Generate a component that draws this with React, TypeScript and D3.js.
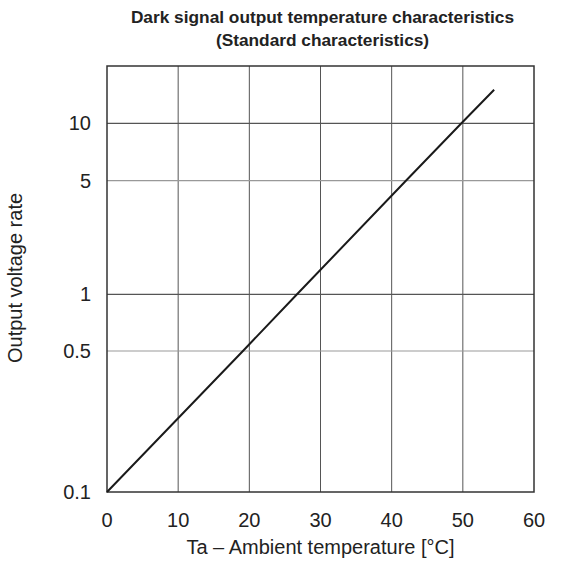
import { useEffect, useRef } from "react";
import * as d3 from "d3";

// x ticks (°C) and y ticks (output voltage rate)
const xTicks = [0, 10, 20, 30, 40, 50, 60];
const yTicks = [0.1, 0.5, 1, 5, 10];
// the printed y axis is not an exact log scale, so each gridline gets its own stop
const yStops = [0.1, 0.5, 1, 5, 10, 20];
const yStopPx = [492, 351, 294.3, 180.7, 123.3, 66];

// curve
const temps = [0, 19.1, 26.7, 42, 49.8, 54.4];
const rates = [0.1, 0.5, 1, 5, 10, 15];

const W = 573;
const H = 567;
const font = "'Liberation Sans', Arial, sans-serif";

export default function App() {
  const svgRef = useRef<SVGSVGElement | null>(null);

  useEffect(() => {
    const svg = d3.select(svgRef.current);
    svg.selectAll("*").remove();

    const margin = { top: 66, right: 39, bottom: 75, left: 107 };
    const innerW = W - margin.left - margin.right;
    const innerH = H - margin.top - margin.bottom;

    const x = d3.scaleLinear().domain([0, 60]).range([0, innerW]);
    const y = d3
      .scaleLog()
      .domain(yStops)
      .range(yStopPx.map(p => p - margin.top));

    const g = svg.append("g").attr("transform", `translate(${margin.left},${margin.top})`);

    // vertical grid
    g.selectAll(".vgrid")
      .data(xTicks.slice(1, -1))
      .enter()
      .append("line")
      .attr("x1", d => x(d))
      .attr("x2", d => x(d))
      .attr("y1", 0)
      .attr("y2", innerH)
      .attr("stroke", "#555")
      .attr("stroke-width", 1);

    // horizontal grid
    g.selectAll(".hgrid")
      .data(yTicks.slice(1))
      .enter()
      .append("line")
      .attr("x1", 0)
      .attr("x2", innerW)
      .attr("y1", d => y(d))
      .attr("y2", d => y(d))
      .attr("stroke", d => (d === 5 || d === 0.5 ? "#999" : "#555"))
      .attr("stroke-width", 1.2);

    // frame
    g.append("rect")
      .attr("width", innerW)
      .attr("height", innerH)
      .attr("fill", "none")
      .attr("stroke", "#333")
      .attr("stroke-width", 1.5);

    // curve
    const pts = temps.map((t, i) => [t, rates[i]] as [number, number]);
    g.append("path")
      .datum(pts)
      .attr("fill", "none")
      .attr("stroke", "#1a1a1a")
      .attr("stroke-width", 2)
      .attr("d", d3.line<[number, number]>().x(d => x(d[0])).y(d => y(d[1])));

    // x tick labels
    g.selectAll(".xlab")
      .data(xTicks)
      .enter()
      .append("text")
      .attr("x", d => x(d))
      .attr("y", 527 - margin.top)
      .attr("text-anchor", "middle")
      .attr("font-family", font)
      .attr("font-size", 20)
      .attr("fill", "#222")
      .text(d => d);

    // y tick labels
    g.selectAll(".ylab")
      .data(yTicks)
      .enter()
      .append("text")
      .attr("x", -16)
      .attr("y", d => y(d))
      .attr("dy", "0.35em")
      .attr("text-anchor", "end")
      .attr("font-family", font)
      .attr("font-size", 20)
      .attr("fill", "#222")
      .text(d => d);

    // axis titles
    svg.append("text")
      .attr("x", 320.5)
      .attr("y", 554)
      .attr("text-anchor", "middle")
      .attr("font-family", font)
      .attr("font-size", 20)
      .attr("fill", "#222")
      .text("Ta – Ambient temperature [°C]");

    svg.append("text")
      .attr("transform", `translate(22,278) rotate(-90)`)
      .attr("text-anchor", "middle")
      .attr("font-family", font)
      .attr("font-size", 20)
      .attr("fill", "#222")
      .text("Output voltage rate");

    // title
    const title = svg.append("text")
      .attr("text-anchor", "middle")
      .attr("font-family", font)
      .attr("font-size", 17.3)
      .attr("font-weight", "bold")
      .attr("fill", "#222");
    title.append("tspan").attr("x", 322.5).attr("y", 22.5).text("Dark signal output temperature characteristics");
    title.append("tspan").attr("x", 322.5).attr("y", 46).text("(Standard characteristics)");
  }, []);

  return (
    <svg
      ref={svgRef}
      width={W}
      height={H}
      style={{ position: "absolute", left: 0, top: 0, background: "#fff" }}
    />
  );
}
